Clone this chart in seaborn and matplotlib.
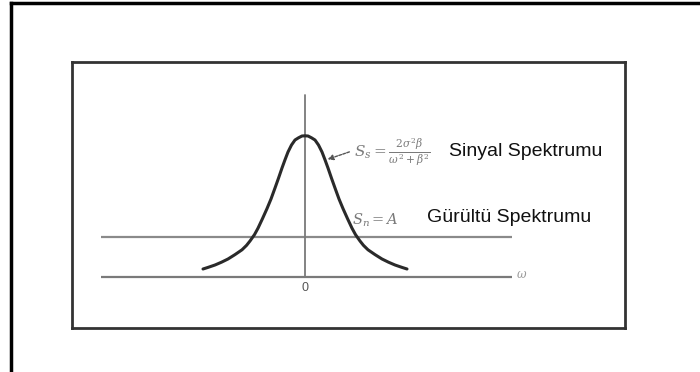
import matplotlib
matplotlib.use("Agg")
import matplotlib.pyplot as plt
from matplotlib.lines import Line2D
import seaborn as sns
import pandas as pd

sns.set_style("white")
plt.rcParams['font.family'] = ['Liberation Sans', 'DejaVu Sans']
plt.rcParams['mathtext.fontset'] = 'dejavuserif'

# Signal spectrum curve (omega, S)
omega = [-2.04, -1.94, -1.80, -1.67, -1.54, -1.40, -1.26, -1.17, -1.10, -1.01,
         -0.94, -0.85, -0.76, -0.68, -0.60, -0.53, -0.46, -0.40, -0.34, -0.27,
         -0.20, -0.13, -0.06, 0.00,
         0.06, 0.13, 0.20, 0.27, 0.34, 0.40, 0.46, 0.53, 0.60, 0.68,
         0.76, 0.85, 0.94, 1.01, 1.10, 1.17, 1.26, 1.40, 1.54, 1.67,
         1.80, 1.94, 2.04]
signal = [0.20, 0.24, 0.30, 0.37, 0.45, 0.56, 0.68, 0.79, 0.90, 1.06,
          1.22, 1.46, 1.71, 1.95, 2.225, 2.47, 2.725, 2.93, 3.125, 3.30,
          3.425, 3.48, 3.525, 3.53,
          3.525, 3.48, 3.425, 3.30, 3.125, 2.93, 2.725, 2.47, 2.225, 1.95,
          1.71, 1.46, 1.22, 1.06, 0.90, 0.79, 0.68, 0.56, 0.45, 0.37,
          0.30, 0.24, 0.20]

noise_level = 1.0            # S_n = A
axis_extent = [-4.08, 4.14]  # horizontal axis / noise line span
vertical_top = 4.55

labels = {
    "signal": "Sinyal Spektrumu",
    "noise": "Gürültü Spektrumu",
    "signal_eq": r"$S_s=\frac{2\sigma^2\beta}{\omega^2+\beta^2}$",
    "noise_eq": r"$S_n=A$",
    "xlabel": r"$\omega$",
    "zero": "0",
}

df = pd.DataFrame({"omega": omega, "S": signal})

fig = plt.figure(figsize=(7.0, 3.72), dpi=100)
ax = fig.add_axes([72/700, 1-328/372, (625-72)/700, (328-62)/372])

# noise level line
ax.plot(axis_extent, [noise_level, noise_level], color="#8a8a8a", lw=1.6, solid_capstyle="butt")
# horizontal axis
ax.plot(axis_extent, [0, 0], color="#7a7a7a", lw=1.6, solid_capstyle="butt")
# vertical axis
ax.plot([0, 0], [0, vertical_top], color="#7a7a7a", lw=1.3)

sns.lineplot(data=df, x="omega", y="S", ax=ax, color="#2a2a2a", lw=2.2, sort=False)
for ln in ax.get_lines():
    ln.set_solid_joinstyle("round")

ax.set_xlim(-4.66, 6.40)
ax.set_ylim(-1.275, 5.375)
ax.set_xticks([])
ax.set_yticks([])
ax.set_xlabel("")
ax.set_ylabel("")
for s in ax.spines.values():
    s.set_visible(True)
    s.set_color("#333333")
    s.set_linewidth(2.0)

ax.text(4.22, 0.05, labels["xlabel"], color="#9a9a9a", fontsize=8.5, ha="left", va="center")
ax.text(0.0, -0.28, labels["zero"], color="#555555", fontsize=9, ha="center", va="center")

ax.text(0.98, 3.12, labels["signal_eq"], color="#7a7a7a", fontsize=11, ha="left", va="center")
ax.annotate("", xy=(0.40, 2.92), xytext=(0.94, 3.15),
            arrowprops=dict(arrowstyle="-|>", color="#555555", lw=1.0,
                            linestyle=(0, (2, 1)), mutation_scale=8))
ax.text(2.88, 3.13, labels["signal"], color="#111111", fontsize=14, ha="left", va="center")

ax.text(0.94, 1.43, labels["noise_eq"], color="#7a7a7a", fontsize=10.5, ha="left", va="center")
ax.text(2.44, 1.48, labels["noise"], color="#111111", fontsize=14, ha="left", va="center")

# outer frame (left and top edges)
fig.add_artist(Line2D([11/700, 11/700], [0, 1-3/372], transform=fig.transFigure,
                      color="black", lw=2.5, solid_capstyle="projecting"))
fig.add_artist(Line2D([11/700, 1], [1-3/372, 1-3/372], transform=fig.transFigure,
                      color="black", lw=2.5, solid_capstyle="projecting"))

fig.savefig("out.png", dpi=100)
